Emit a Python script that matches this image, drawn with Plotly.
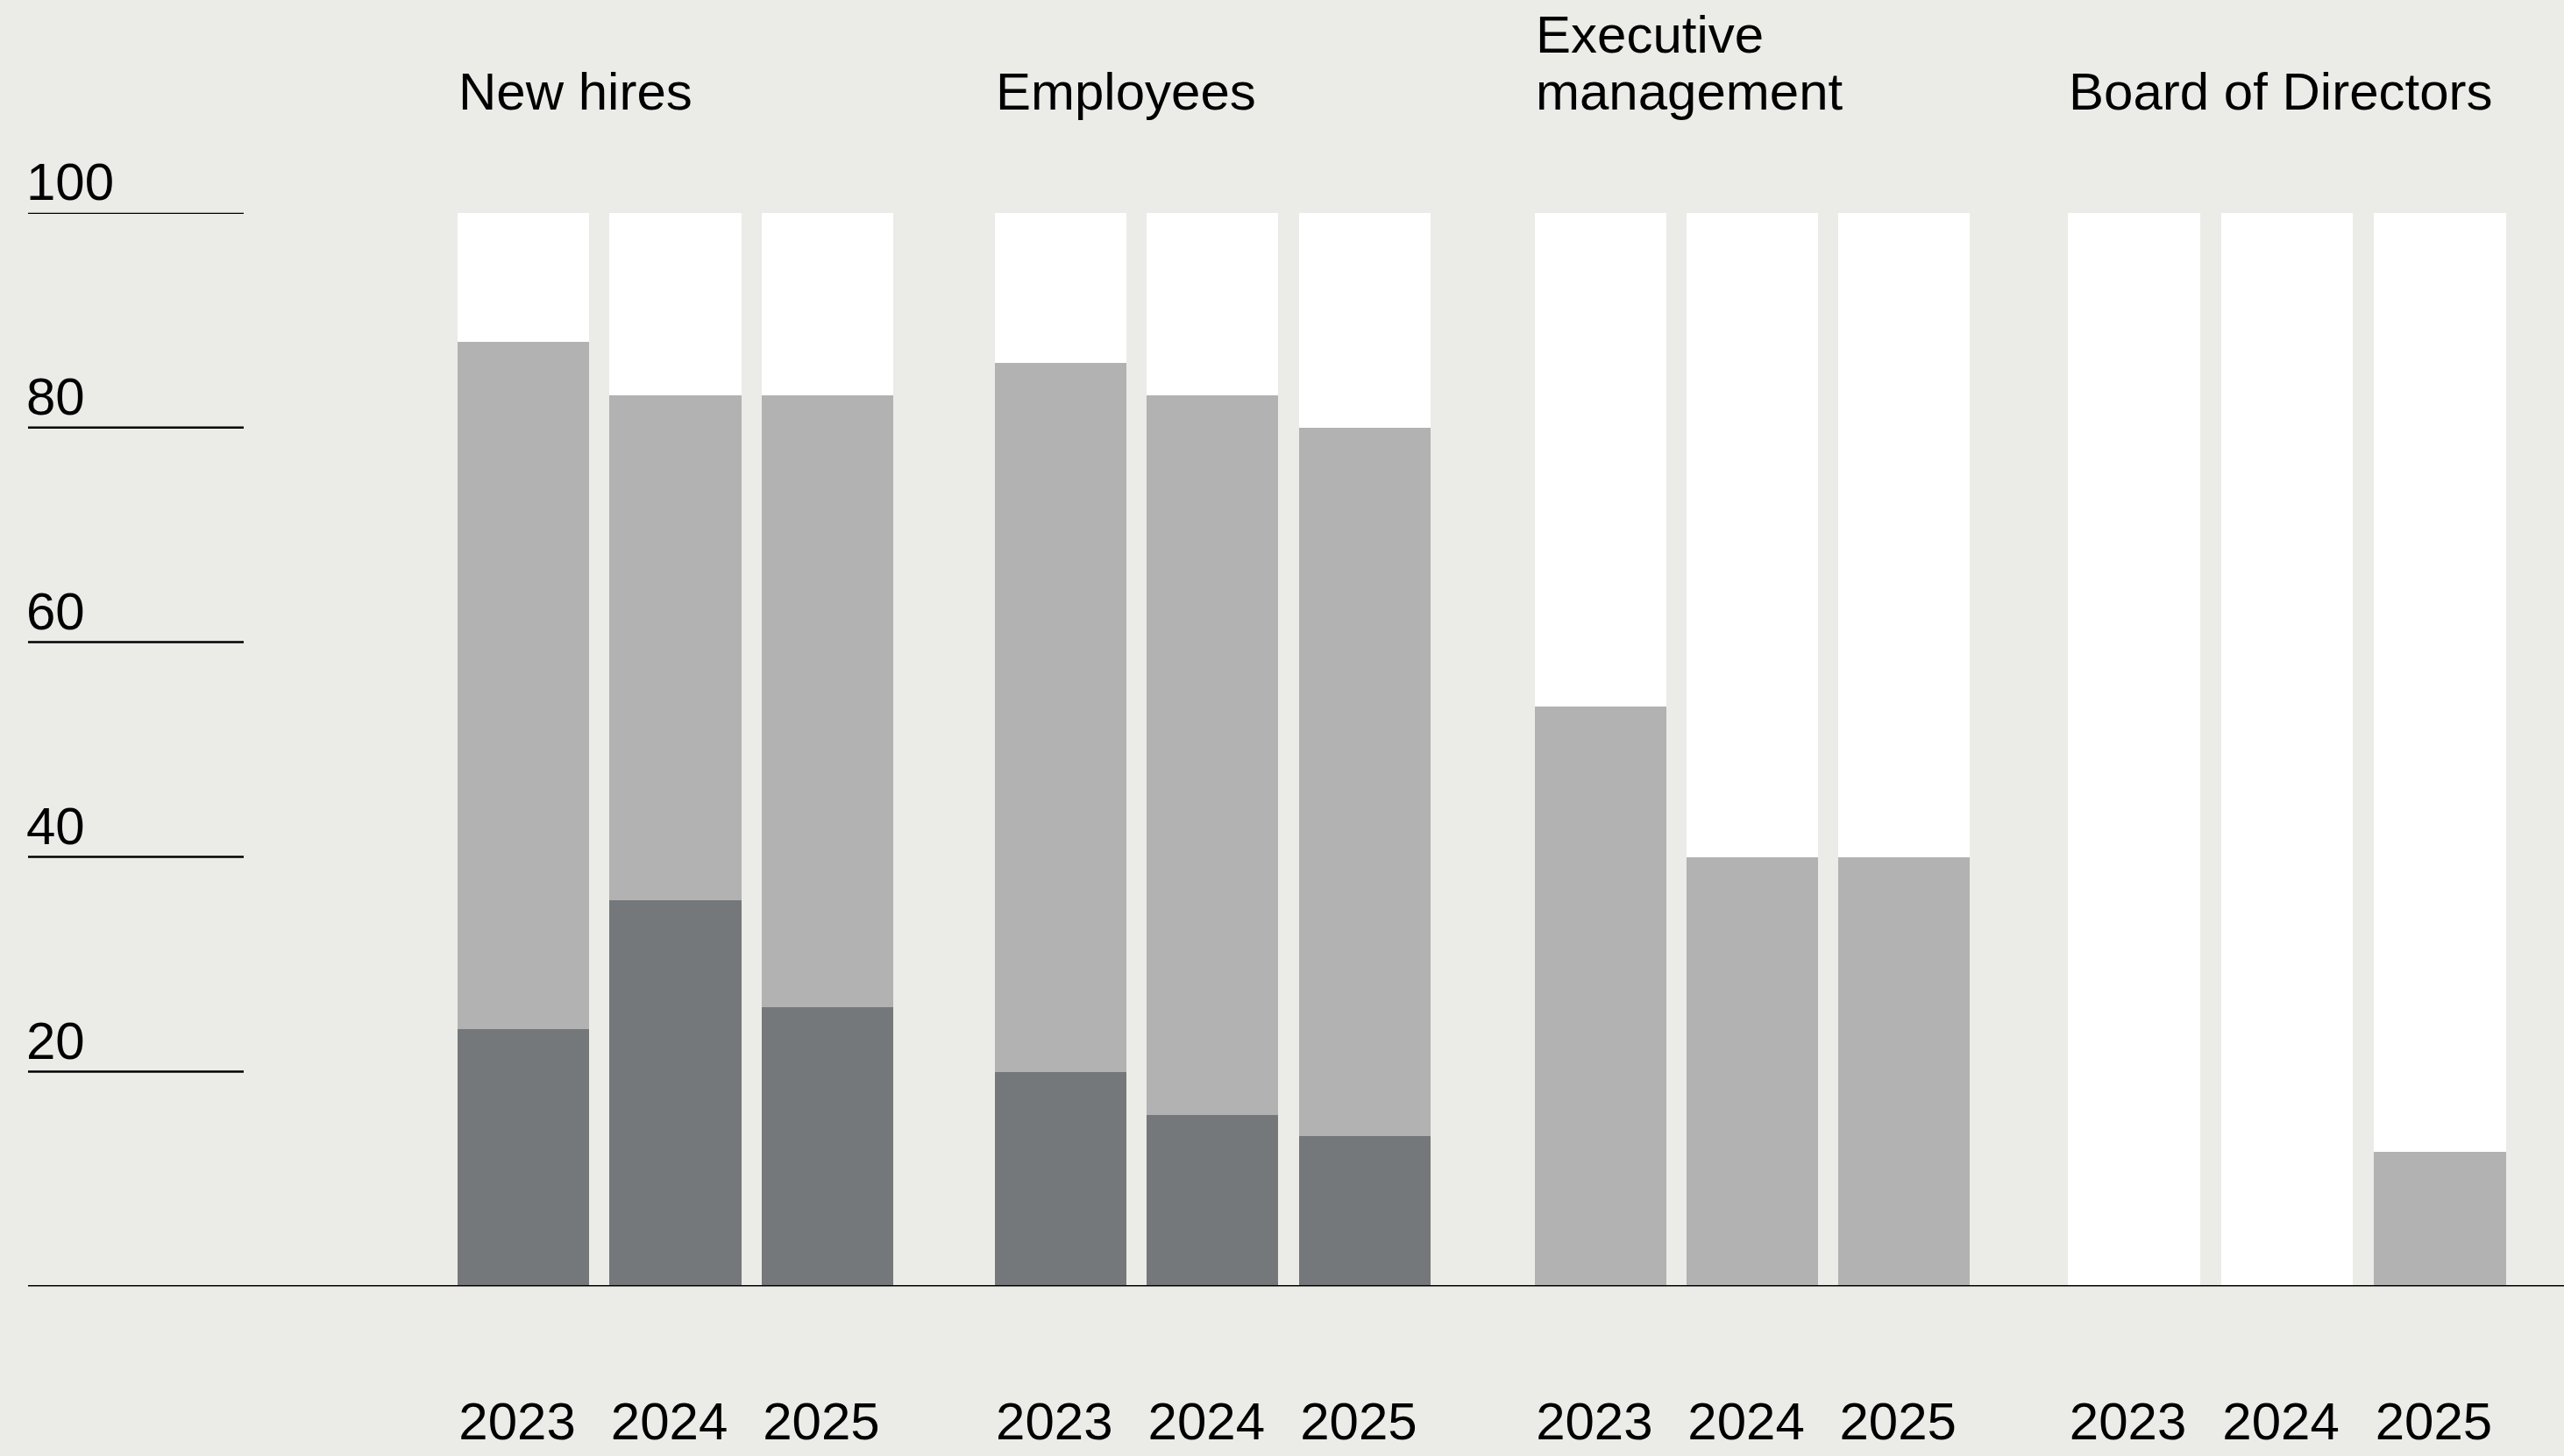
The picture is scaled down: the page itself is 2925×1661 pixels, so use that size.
import plotly.graph_objects as go

# Share of each segment (%), per group and year
groups = ["New hires", "Employees", "Executive management", "Board of Directors"]
group_titles = [["New hires"], ["Employees"], ["Executive", "management"], ["Board of Directors"]]
years = ["2023", "2024", "2025"]

share_dark = [[24, 36, 26], [20, 16, 14], [0, 0, 0], [0, 0, 0]]
share_light = [[64, 47, 57], [66, 67, 66], [54, 40, 40], [0, 0, 12.5]]
share_rest = [[12, 17, 17], [14, 17, 20], [46, 60, 60], [100, 100, 87.5]]

y_ticks = [20, 40, 60, 80, 100]

# Styling
W, H = 2925, 1661
BG = "#EBECE7"
DARK = "#75787B"
LIGHT = "#B1B2B1"
REST = "#FFFFFF"
FONT = "Liberation Sans, Arial, sans-serif"
FS = 60
BARGAP = 0.135

# Horizontal extent of each group panel (paper fraction)
domains = [
    [0.17446, 0.35238],
    [0.38393, 0.56195],
    [0.59463, 0.77221],
    [0.80250, 0.98144],
]
Y_DOMAIN = [0.1165, 0.8539]


def py(px):
    """Convert a pixel row (from top) to a paper y fraction."""
    return 1 - px / H


fig = go.Figure()
layout_axes = {}
annotations = []

for i, name in enumerate(groups):
    ax = "x" if i == 0 else f"x{i + 1}"
    for vals, color in ((share_dark[i], DARK), (share_light[i], LIGHT), (share_rest[i], REST)):
        fig.add_trace(go.Bar(
            x=years, y=vals, xaxis=ax, yaxis="y",
            marker=dict(color=color, line=dict(width=0)),
            showlegend=False, hoverinfo="skip",
        ))
    key = "xaxis" if i == 0 else f"xaxis{i + 1}"
    layout_axes[key] = dict(
        domain=domains[i], anchor="y", type="category",
        range=[-0.5, 2.5], showgrid=False, zeroline=False, showline=False,
        ticks="", tickfont=dict(family=FONT, size=FS, color="#000000"),
        ticklabelstandoff=114, ticklabelshift=-7, fixedrange=True,
    )

    # Group heading, left-aligned with the first bar; last line sits on a fixed baseline
    lines = group_titles[i]
    for j, line in enumerate(lines):
        baseline = 126 - 65 * (len(lines) - 1 - j)
        annotations.append(dict(
            text=line, xref=f"{ax} domain", yref="paper",
            x=BARGAP / 2 / 3, y=py(baseline + 12.7),
            xanchor="left", yanchor="bottom", showarrow=False, borderpad=0,
            font=dict(family=FONT, size=FS, color="#000000"),
        ))

# Value labels above the short left-hand rules
for v in y_ticks:
    annotations.append(dict(
        text=str(v), xref="paper", yref="y", x=29 / W, y=v,
        xanchor="left", yanchor="bottom", yshift=1, showarrow=False, borderpad=0,
        font=dict(family=FONT, size=FS, color="#000000"),
    ))

shapes = []
for v in y_ticks:
    shapes.append(dict(
        type="line", xref="paper", yref="y", x0=32 / W, x1=278 / W, y0=v, y1=v,
        line=dict(color="#000000", width=2.5), layer="above",
    ))
# Baseline across the full width
shapes.append(dict(
    type="line", xref="paper", yref="y", x0=32 / W, x1=1, y0=0, y1=0,
    line=dict(color="#000000", width=3), layer="above",
))

fig.update_layout(
    width=W, height=H,
    margin=dict(l=0, r=0, t=0, b=0),
    paper_bgcolor=BG, plot_bgcolor=BG,
    barmode="stack", bargap=BARGAP,
    yaxis=dict(domain=Y_DOMAIN, range=[0, 100], visible=False, fixedrange=True),
    annotations=annotations, shapes=shapes,
    showlegend=False,
    **layout_axes,
)

fig.write_html("out.html", config={"displayModeBar": False})
